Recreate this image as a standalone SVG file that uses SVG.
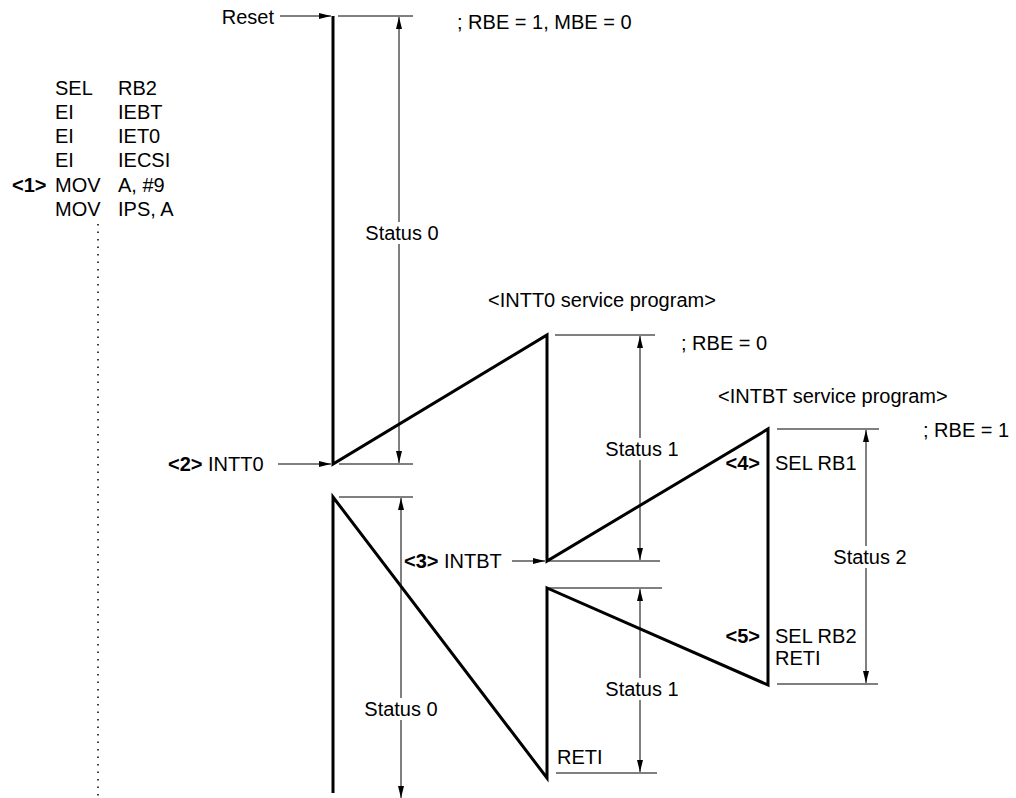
<svg xmlns="http://www.w3.org/2000/svg" width="1016" height="798" viewBox="0 0 1016 798">
<defs>
<marker id="ah" viewBox="0 0 12 6" refX="12" refY="3" markerWidth="12" markerHeight="6" markerUnits="userSpaceOnUse" orient="auto-start-reverse">
<path d="M0,0 L12,3 L0,6 z" fill="#000"/>
</marker>
</defs>
<style>
text{font-family:"Liberation Sans",Arial,sans-serif;font-size:20px;fill:#000}
.b{font-weight:bold}
.thick{stroke:#000;stroke-width:3;fill:none;stroke-linejoin:miter;stroke-miterlimit:20}
.thin{stroke:#000;stroke-width:1;fill:none}
.dim{stroke:#000;stroke-width:1;fill:none;marker-start:url(#ah);marker-end:url(#ah)}
.arr{stroke:#000;stroke-width:1;fill:none;marker-end:url(#ah)}
.c{text-anchor:middle}
.e{text-anchor:end}
.bg{fill:#fff}
</style>
<rect width="1016" height="798" fill="#fff"/>
<g id="connectors">
<polyline class="thick" points="333,16 333,464 547,335 547,561 768,429 768,685 547,588 547,778 333,497 333,793"/>
<line class="thin" x1="338" y1="16" x2="413" y2="16"/>
<line class="thin" x1="339" y1="464" x2="413" y2="464"/>
<line class="thin" x1="339" y1="497" x2="413" y2="497"/>
<line class="thin" x1="555" y1="335" x2="655" y2="335"/>
<line class="thin" x1="549" y1="561" x2="660" y2="561"/>
<line class="thin" x1="549" y1="588" x2="662" y2="588"/>
<line class="thin" x1="556" y1="773" x2="657" y2="773"/>
<line class="thin" x1="777" y1="429" x2="879" y2="429"/>
<line class="thin" x1="777" y1="684" x2="878" y2="684"/>
<line class="dim" x1="399" y1="17" x2="399" y2="463"/>
<line class="dim" x1="401" y1="498" x2="401" y2="798"/>
<line class="dim" x1="640" y1="336" x2="640" y2="560"/>
<line class="dim" x1="640" y1="589" x2="640" y2="772"/>
<line class="dim" x1="866" y1="430" x2="866" y2="683"/>
<line class="arr" x1="280" y1="16" x2="331" y2="16"/>
<line class="arr" x1="278" y1="464" x2="331" y2="464"/>
<line class="arr" x1="512" y1="561" x2="545" y2="561"/>
<line x1="98" y1="224" x2="98" y2="798" stroke="#000" stroke-width="1.5" stroke-dasharray="1.5,6"/>
</g>
<g id="code">
<text x="55" y="95">SEL</text><text x="118" y="95">RB2</text>
<text x="55" y="119">EI</text><text x="118" y="119">IEBT</text>
<text x="55" y="143">EI</text><text x="118" y="143">IET0</text>
<text x="55" y="167">EI</text><text x="118" y="167">IECSI</text>
<text x="12" y="192" class="b">&lt;1&gt;</text><text x="55" y="192">MOV</text><text x="118" y="192">A, #9</text>
<text x="55" y="216">MOV</text><text x="118" y="216">IPS, A</text>
</g>
<g id="reset"><text x="274" y="24" class="e">Reset</text></g>
<g id="intt0"><text x="168" y="471"><tspan class="b">&lt;2&gt;</tspan> INTT0</text></g>
<g id="intbt"><text x="404" y="568"><tspan class="b">&lt;3&gt;</tspan> INTBT</text></g>
<g id="labels">
<text x="457" y="29">; RBE = 1, MBE = 0</text>
<text x="488" y="307">&lt;INTT0 service program&gt;</text>
<text x="681" y="350">; RBE = 0</text>
<text x="718" y="403">&lt;INTBT service program&gt;</text>
<text x="923" y="437">; RBE = 1</text>
<rect class="bg" x="360" y="222" width="84" height="22"/>
<text x="402" y="240" class="c">Status 0</text>
<rect class="bg" x="600" y="438" width="84" height="22"/>
<text x="642" y="456" class="c">Status 1</text>
<rect class="bg" x="828" y="546" width="84" height="22"/>
<text x="870" y="564" class="c">Status 2</text>
<rect class="bg" x="600" y="678" width="84" height="22"/>
<text x="642" y="696" class="c">Status 1</text>
<rect class="bg" x="359" y="698" width="84" height="22"/>
<text x="401" y="716" class="c">Status 0</text>
<text x="760" y="470" class="b e">&lt;4&gt;</text><text x="775" y="470">SEL RB1</text>
<text x="760" y="643" class="b e">&lt;5&gt;</text><text x="775" y="643">SEL RB2</text>
<text x="775" y="665">RETI</text>
<text x="557" y="764">RETI</text>
</g>
</svg>
